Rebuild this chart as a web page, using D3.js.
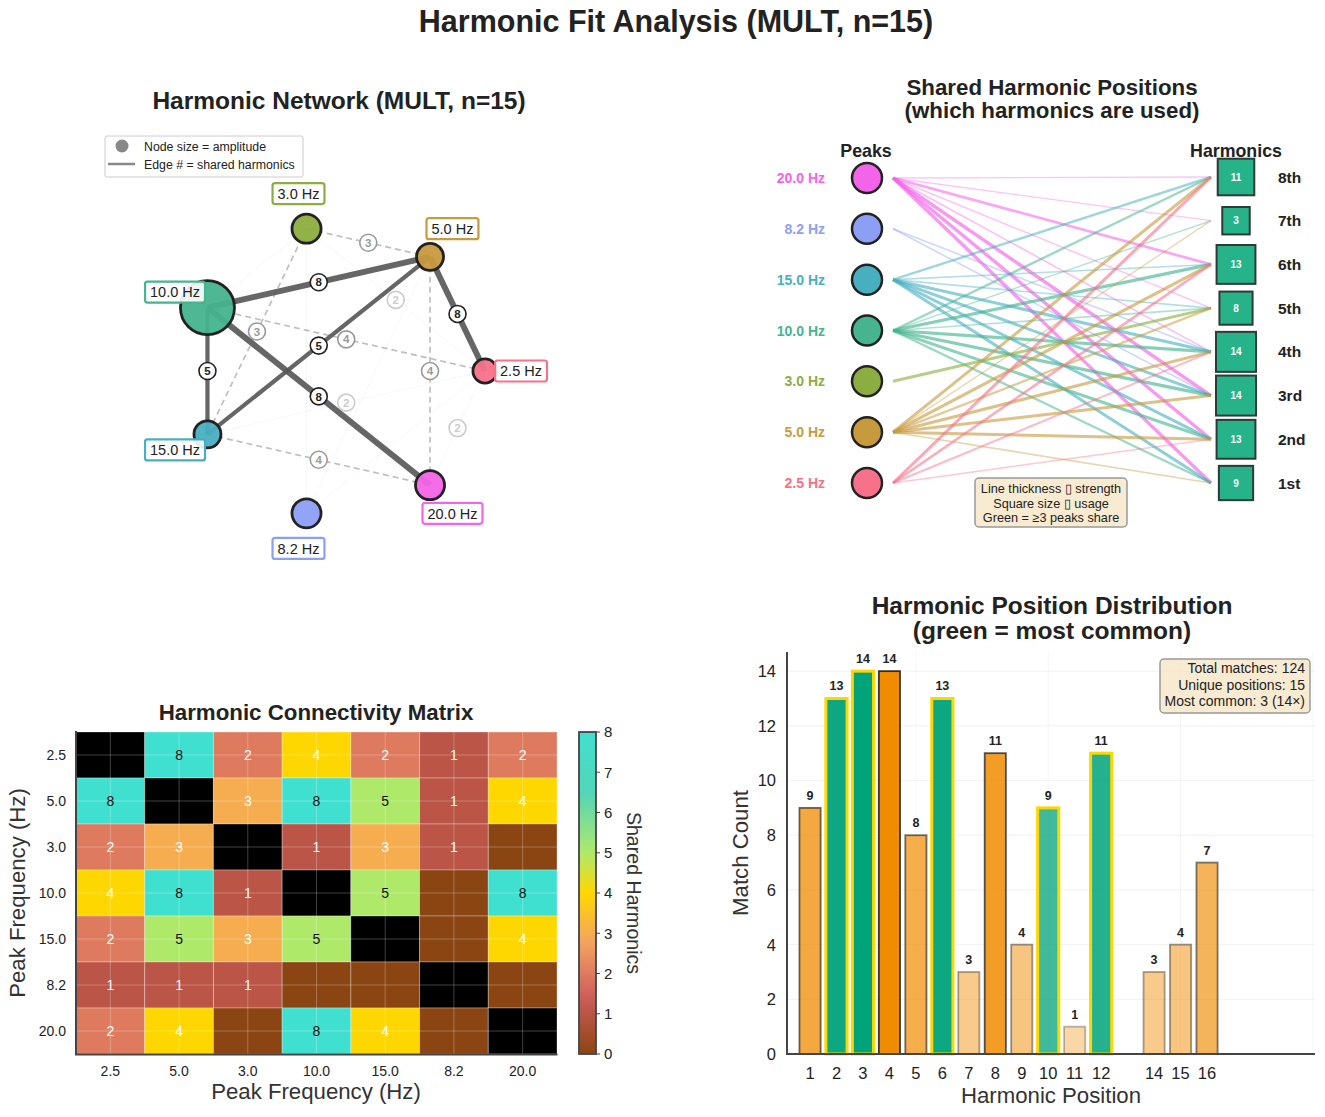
<!DOCTYPE html>
<html>
<head>
<meta charset="utf-8">
<script src="https://cdn.jsdelivr.net/npm/d3@7"></script>
<style>
body { margin: 0; background: #fff; }
text { font-family: "Liberation Sans", Arial, sans-serif; }
</style>
</head>
<body>
<svg id="svg"></svg>
<script>
const width = 1325;
const height = 1117;

// peaks, in circular-layout / matrix order
const peaks = ["2.5", "5.0", "3.0", "10.0", "15.0", "8.2", "20.0"];
const peakColors = ["#f77189", "#c89a3e", "#8cad3f", "#45b48f", "#48afc1", "#8c9ff5", "#f464e8"];
const amplitudes = [0.2, 0.25, 0.29, 1.0, 0.25, 0.29, 0.29];

// shared harmonics between peaks (diagonal unused)
const shared = [
  [0, 8, 2, 4, 2, 1, 2],
  [8, 0, 3, 8, 5, 1, 4],
  [2, 3, 0, 1, 3, 1, 0],
  [4, 8, 1, 0, 5, 0, 8],
  [2, 5, 3, 5, 0, 0, 4],
  [1, 1, 1, 0, 0, 0, 0],
  [2, 4, 0, 8, 4, 0, 0]
];

// bipartite panel
const peakRows = ["20.0", "8.2", "15.0", "10.0", "3.0", "5.0", "2.5"];
const harmonicRows = ["8th", "7th", "6th", "5th", "4th", "3rd", "2nd", "1st"];
const harmonicUsage = [11, 3, 13, 8, 14, 14, 13, 9];
const links = [
  ["20.0", "8th", 0.15], ["20.0", "7th", 0.15], ["20.0", "6th", 0.6], ["20.0", "5th", 0.2],
  ["20.0", "4th", 0.25], ["20.0", "3rd", 0.8], ["20.0", "2nd", 0.8], ["20.0", "1st", 0.8],
  ["8.2", "4th", 0.25], ["8.2", "3rd", 0.25],
  ["15.0", "8th", 0.5], ["15.0", "6th", 0.25], ["15.0", "5th", 0.25], ["15.0", "4th", 0.7],
  ["15.0", "3rd", 0.7], ["15.0", "2nd", 0.7], ["15.0", "1st", 0.7],
  ["10.0", "8th", 0.5], ["10.0", "7th", 0.2], ["10.0", "6th", 0.75], ["10.0", "5th", 0.25],
  ["10.0", "4th", 0.75], ["10.0", "3rd", 0.75], ["10.0", "2nd", 0.7], ["10.0", "1st", 0.5],
  ["3.0", "5th", 0.7],
  ["5.0", "8th", 0.7], ["5.0", "7th", 0.2], ["5.0", "6th", 0.7], ["5.0", "5th", 0.5],
  ["5.0", "4th", 0.7], ["5.0", "3rd", 0.7], ["5.0", "2nd", 0.7], ["5.0", "1st", 0.25],
  ["2.5", "8th", 0.7], ["2.5", "6th", 0.6], ["2.5", "4th", 0.4], ["2.5", "2nd", 0.2]
];
const noteLines = ["Line thickness \u25AF strength", "Square size \u25AF usage", "Green = \u22653 peaks share"];

// position distribution
const positions = [1, 2, 3, 4, 5, 6, 7, 8, 9, 10, 11, 12, 14, 15, 16];
const counts = [9, 13, 14, 14, 8, 13, 3, 11, 4, 9, 1, 11, 3, 4, 7];
const commonPositions = [2, 3, 6, 10, 12];
const statLines = ["Total matches: 124", "Unique positions: 15", "Most common: 3 (14\u00D7)"];

const colorOf = p => peakColors[peaks.indexOf(p)];

const svg = d3.select("#svg")
  .attr("width", width)
  .attr("height", height);

svg.append("rect").attr("width", width).attr("height", height).attr("fill", "white");

svg.append("text")
  .attr("x", 676).attr("y", 32)
  .attr("text-anchor", "middle")
  .style("font-size", "30.5px").style("font-weight", "bold").attr("fill", "#222")
  .text("Harmonic Fit Analysis (MULT, n=15)");

function title(lines, x, y, size, gap) {
  lines.forEach((t, i) => {
    svg.append("text")
      .attr("x", x).attr("y", y + i * gap)
      .attr("text-anchor", "middle")
      .style("font-size", size + "px").style("font-weight", "bold").attr("fill", "#222")
      .text(t);
  });
}

// ---------- network ----------
function drawNetwork() {
  const g = svg.append("g");
  title(["Harmonic Network (MULT, n=15)"], 339, 109, 24.5, 0);

  const nx = d3.scaleLinear().domain([-1, 1]).range([193, 485]);
  const ny = d3.scaleLinear().domain([-1, 1]).range([517, 225]);
  const rScale = d3.scaleSqrt().domain([0, 1]).range([0, 27]);

  const nodes = peaks.map((p, i) => {
    const a = 2 * Math.PI * i / peaks.length;
    return { id: p, i: i, a: a, x: nx(Math.cos(a)), y: ny(Math.sin(a)), r: rScale(amplitudes[i]) };
  });

  const edges = [];
  for (let i = 0; i < peaks.length; i++) {
    for (let j = i + 1; j < peaks.length; j++) {
      if (shared[i][j] > 0) edges.push({ s: nodes[i], t: nodes[j], w: shared[i][j] });
    }
  }
  edges.sort((a, b) => a.w - b.w);

  g.selectAll("line.edge")
    .data(edges)
    .enter().append("line")
    .attr("x1", d => d.s.x).attr("y1", d => d.s.y)
    .attr("x2", d => d.t.x).attr("y2", d => d.t.y)
    .attr("stroke", d => d.w >= 5 ? "#555" : d.w >= 3 ? "#aaa" : "#ddd")
    .attr("stroke-opacity", d => d.w >= 5 ? 0.9 : d.w >= 3 ? 0.75 : 0.55)
    .attr("stroke-width", d => d.w >= 5 ? 1.5 + d.w * 0.55 : d.w >= 3 ? 1.7 : 0.8)
    .attr("stroke-dasharray", d => d.w >= 5 ? null : d.w >= 3 ? "6,4" : "1.5,1.5");

  const lab = g.selectAll("g.elab")
    .data(edges.filter(d => d.w >= 2))
    .enter().append("g")
    .attr("transform", d => `translate(${(d.s.x + d.t.x) / 2},${(d.s.y + d.t.y) / 2})`);
  lab.append("circle")
    .attr("r", 8.5)
    .attr("fill", "white")
    .attr("stroke", d => d.w >= 5 ? "#222" : d.w >= 3 ? "#999" : "#ccc")
    .attr("stroke-width", 1.6);
  lab.append("text")
    .attr("text-anchor", "middle").attr("dy", "0.36em")
    .style("font-size", "11.5px").style("font-weight", "bold")
    .attr("fill", d => d.w >= 5 ? "#222" : d.w >= 3 ? "#999" : "#ccc")
    .text(d => d.w);

  g.selectAll("circle.node")
    .data(nodes)
    .enter().append("circle")
    .attr("cx", d => d.x).attr("cy", d => d.y).attr("r", d => d.r)
    .attr("fill", d => peakColors[d.i]).attr("fill-opacity", 0.95)
    .attr("stroke", "#222").attr("stroke-width", 2.8);

  nodes.forEach(d => {
    const lx = d.x + 36 * Math.cos(d.a);
    const ly = d.y - 36 * Math.sin(d.a);
    const lg = g.append("g").attr("transform", `translate(${lx},${ly})`);
    const box = lg.append("rect");
    const t = lg.append("text")
      .attr("text-anchor", "middle").attr("dy", "0.36em")
      .style("font-size", "14.5px").attr("fill", "#222")
      .text(d.id + " Hz");
    const w = t.node().getComputedTextLength() + 10;
    box.attr("x", -w / 2).attr("y", -10.5).attr("width", w).attr("height", 21)
      .attr("rx", 2.5)
      .attr("fill", "white").attr("fill-opacity", 0.9)
      .attr("stroke", peakColors[d.i]).attr("stroke-width", 2.2);
  });

  // legend
  const lg = g.append("g");
  lg.append("rect").attr("x", 105).attr("y", 136).attr("width", 198).attr("height", 41)
    .attr("rx", 2).attr("fill", "white").attr("stroke", "#ccc");
  lg.append("circle").attr("cx", 122).attr("cy", 146).attr("r", 6.5).attr("fill", "#888");
  lg.append("line").attr("x1", 108).attr("x2", 135).attr("y1", 164).attr("y2", 164)
    .attr("stroke", "#888").attr("stroke-width", 2.5);
  lg.append("text").attr("x", 144).attr("y", 151).style("font-size", "12.3px").attr("fill", "#222")
    .text("Node size = amplitude");
  lg.append("text").attr("x", 144).attr("y", 169).style("font-size", "12.3px").attr("fill", "#222")
    .text("Edge # = shared harmonics");
}

// ---------- bipartite ----------
function drawBipartite() {
  const g = svg.append("g");
  title(["Shared Harmonic Positions", "(which harmonics are used)"], 1052, 95, 22.3, 23);

  const py = d3.scalePoint().domain(peakRows).range([178, 483]);
  const hy = d3.scalePoint().domain(harmonicRows).range([177, 483]);
  const sq = d3.scaleLinear().domain([0, 14]).range([24, 40]);
  const lw = d3.scaleLinear().domain([0, 1]).range([0.8, 4]);
  const la = d3.scaleLinear().domain([0, 1]).range([0.3, 0.75]);

  g.selectAll("line.link")
    .data(links)
    .enter().append("line")
    .attr("x1", 893).attr("y1", d => py(d[0]))
    .attr("x2", 1211).attr("y2", d => hy(d[1]))
    .attr("stroke", d => colorOf(d[0]))
    .attr("stroke-width", d => lw(d[2]))
    .attr("stroke-opacity", d => la(d[2]));

  g.append("text").attr("x", 866).attr("y", 157).attr("text-anchor", "middle")
    .style("font-size", "17.8px").style("font-weight", "bold").attr("fill", "#222").text("Peaks");
  g.append("text").attr("x", 1236).attr("y", 157).attr("text-anchor", "middle")
    .style("font-size", "17.8px").style("font-weight", "bold").attr("fill", "#222").text("Harmonics");

  g.selectAll("circle.peak")
    .data(peakRows)
    .enter().append("circle")
    .attr("cx", 867).attr("cy", d => py(d)).attr("r", 15)
    .attr("fill", d => colorOf(d)).attr("stroke", "#222").attr("stroke-width", 2.5);
  g.selectAll("text.peak")
    .data(peakRows)
    .enter().append("text")
    .attr("x", 825).attr("y", d => py(d)).attr("dy", "0.36em")
    .attr("text-anchor", "end")
    .style("font-size", "14px").style("font-weight", "bold")
    .attr("fill", d => colorOf(d))
    .text(d => d + " Hz");

  const hg = g.selectAll("g.harm")
    .data(harmonicRows)
    .enter().append("g")
    .attr("transform", d => `translate(1236,${hy(d)})`);
  hg.append("rect")
    .attr("x", (d, i) => -sq(harmonicUsage[i]) / 2)
    .attr("y", (d, i) => -sq(harmonicUsage[i]) / 2)
    .attr("width", (d, i) => sq(harmonicUsage[i]))
    .attr("height", (d, i) => sq(harmonicUsage[i]))
    .attr("fill", "#27b38a").attr("stroke", "#2d3a35").attr("stroke-width", 2);
  hg.append("text")
    .attr("text-anchor", "middle").attr("dy", "0.36em")
    .style("font-size", "10px").style("font-weight", "bold").attr("fill", "white")
    .text((d, i) => harmonicUsage[i]);
  hg.append("text")
    .attr("x", 42).attr("dy", "0.36em")
    .style("font-size", "15.5px").style("font-weight", "bold").attr("fill", "#222")
    .text(d => d);

  const note = g.append("g");
  note.append("rect").attr("x", 975).attr("y", 478).attr("width", 152).attr("height", 49)
    .attr("rx", 4).attr("fill", "#f5e4c3").attr("fill-opacity", 0.75)
    .attr("stroke", "#999").attr("stroke-width", 1.5);
  noteLines.forEach((t, i) => {
    note.append("text").attr("x", 1051).attr("y", 493 + i * 14.5).attr("text-anchor", "middle")
      .style("font-size", "12.7px").attr("fill", "#222").text(t);
  });
}

// ---------- matrix ----------
function drawMatrix() {
  const g = svg.append("g");
  title(["Harmonic Connectivity Matrix"], 316, 720, 22.3, 0);

  const x = d3.scaleBand().domain(peaks).range([76, 557]);
  const y = d3.scaleBand().domain(peaks).range([732, 1054]);
  const color = d3.scaleLinear()
    .domain([0, 1.4, 2.8, 4, 5, 6.5, 8])
    .range(["#8B4513", "#CD5C5C", "#F4A460", "#FFD700", "#AEE96A", "#52D6B8", "#40E0D0"]);

  const cells = [];
  peaks.forEach((r, i) => peaks.forEach((c, j) => cells.push({ r: r, c: c, i: i, j: j, v: shared[i][j] })));

  g.selectAll("rect.cell")
    .data(cells)
    .enter().append("rect")
    .attr("x", d => x(d.c)).attr("y", d => y(d.r))
    .attr("width", x.bandwidth()).attr("height", y.bandwidth())
    .attr("fill", d => d.i === d.j ? "#000" : color(d.v))
    .attr("stroke", "rgba(255,255,255,0.3)").attr("stroke-width", 1);

  // grid through cell centres
  peaks.forEach(p => {
    g.append("line").attr("x1", x(p) + x.bandwidth() / 2).attr("x2", x(p) + x.bandwidth() / 2)
      .attr("y1", 732).attr("y2", 1054).attr("stroke", "white").attr("stroke-opacity", 0.25);
    g.append("line").attr("y1", y(p) + y.bandwidth() / 2).attr("y2", y(p) + y.bandwidth() / 2)
      .attr("x1", 76).attr("x2", 557).attr("stroke", "white").attr("stroke-opacity", 0.25);
  });

  g.selectAll("text.cell")
    .data(cells.filter(d => d.i !== d.j && d.v > 0))
    .enter().append("text")
    .attr("x", d => x(d.c) + x.bandwidth() / 2).attr("y", d => y(d.r) + y.bandwidth() / 2)
    .attr("dy", "0.36em").attr("text-anchor", "middle")
    .style("font-size", "14px")
    .attr("fill", d => d.v > 4 ? "#111" : "white")
    .text(d => d.v);

  g.append("path").attr("d", "M76,731V1054.5H557.5").attr("fill", "none")
    .attr("stroke", "#444").attr("stroke-width", 2);

  peaks.forEach(p => {
    g.append("text").attr("x", x(p) + x.bandwidth() / 2).attr("y", 1076).attr("text-anchor", "middle")
      .style("font-size", "14px").attr("fill", "#222").text(p);
    g.append("text").attr("x", 66).attr("y", y(p) + y.bandwidth() / 2).attr("dy", "0.36em")
      .attr("text-anchor", "end").style("font-size", "14px").attr("fill", "#222").text(p);
  });

  g.append("text").attr("x", 316).attr("y", 1099).attr("text-anchor", "middle")
    .style("font-size", "22.2px").attr("fill", "#333").text("Peak Frequency (Hz)");
  g.append("text").attr("transform", "translate(25,893) rotate(-90)").attr("text-anchor", "middle")
    .style("font-size", "22.2px").attr("fill", "#333").text("Peak Frequency (Hz)");

  // colorbar
  const defs = svg.append("defs");
  const grad = defs.append("linearGradient").attr("id", "cbar")
    .attr("x1", 0).attr("y1", 1).attr("x2", 0).attr("y2", 0);
  d3.range(0, 8.01, 0.25).forEach(v => {
    grad.append("stop").attr("offset", v / 8).attr("stop-color", color(v));
  });
  const cy = d3.scaleLinear().domain([0, 8]).range([1054, 732]);
  g.append("rect").attr("x", 579).attr("y", 732).attr("width", 17).attr("height", 322)
    .attr("fill", "url(#cbar)").attr("stroke", "#444").attr("stroke-width", 1.8);
  d3.range(0, 9).forEach(v => {
    g.append("line").attr("x1", 596).attr("x2", 600).attr("y1", cy(v)).attr("y2", cy(v))
      .attr("stroke", "#444").attr("stroke-width", 1);
    g.append("text").attr("x", 604).attr("y", cy(v)).attr("dy", "0.36em")
      .style("font-size", "15px").attr("fill", "#222").text(v);
  });
  g.append("text").attr("transform", "translate(627,893) rotate(90)").attr("text-anchor", "middle")
    .style("font-size", "19.6px").attr("fill", "#333").text("Shared Harmonics");
}

// ---------- distribution ----------
function drawBars() {
  const g = svg.append("g");
  title(["Harmonic Position Distribution", "(green = most common)"], 1052, 614, 24.5, 25);

  const x = d3.scaleLinear().domain([0.13, 20.08]).range([787, 1315]);
  const y = d3.scaleLinear().domain([0, 14.7]).range([1054, 652]);
  const maxC = d3.max(counts);
  const alpha = c => 0.3 + 0.7 * c / maxC;

  d3.range(0, 15, 2).forEach(v => {
    g.append("line").attr("x1", 787).attr("x2", 1315).attr("y1", y(v)).attr("y2", y(v))
      .attr("stroke", "#eee").attr("stroke-width", 0.8);
  });
  [5, 10, 15, 20].forEach(v => {
    g.append("line").attr("x1", x(v)).attr("x2", x(v)).attr("y1", 652).attr("y2", 1054)
      .attr("stroke", "#f2f2f2").attr("stroke-width", 0.8);
  });

  const bars = positions.map((p, i) => ({ p: p, c: counts[i], green: commonPositions.includes(p) }));
  const bw = x(0.8) - x(0);

  g.selectAll("rect.bar")
    .data(bars)
    .enter().append("rect")
    .attr("x", d => x(d.p) - bw / 2).attr("y", d => y(d.c))
    .attr("width", bw).attr("height", d => y(0) - y(d.c))
    .attr("fill", d => d.green ? "#00a37a" : "#f08c00")
    .attr("fill-opacity", d => alpha(d.c))
    .attr("stroke", d => d.green ? "#FFD700" : "#222")
    .attr("stroke-opacity", d => d.green ? 1 : alpha(d.c) * 0.9)
    .attr("stroke-width", d => d.green ? 3 : 1.8);

  g.selectAll("text.val")
    .data(bars)
    .enter().append("text")
    .attr("x", d => x(d.p)).attr("y", d => y(d.c) - 8)
    .attr("text-anchor", "middle")
    .style("font-size", "12.5px").style("font-weight", "bold").attr("fill", "#222")
    .text(d => d.c);

  g.append("path").attr("d", "M787,652V1054H1315").attr("fill", "none")
    .attr("stroke", "#444").attr("stroke-width", 2);

  positions.forEach(p => {
    g.append("text").attr("x", x(p)).attr("y", 1079).attr("text-anchor", "middle")
      .style("font-size", "16.5px").attr("fill", "#222").text(p);
  });
  d3.range(0, 15, 2).forEach(v => {
    g.append("text").attr("x", 776).attr("y", y(v)).attr("dy", "0.36em").attr("text-anchor", "end")
      .style("font-size", "16.5px").attr("fill", "#222").text(v);
  });

  g.append("text").attr("x", 1051).attr("y", 1103).attr("text-anchor", "middle")
    .style("font-size", "22.2px").attr("fill", "#333").text("Harmonic Position");
  g.append("text").attr("transform", "translate(748,853) rotate(-90)").attr("text-anchor", "middle")
    .style("font-size", "22.2px").attr("fill", "#333").text("Match Count");

  g.append("rect").attr("x", 1160).attr("y", 659).attr("width", 150).attr("height", 54)
    .attr("rx", 4).attr("fill", "#f5e4c3").attr("fill-opacity", 0.75)
    .attr("stroke", "#999").attr("stroke-width", 1.5);
  statLines.forEach((t, i) => {
    g.append("text").attr("x", 1305).attr("y", 673 + i * 16.5).attr("text-anchor", "end")
      .style("font-size", "14px").attr("fill", "#222").text(t);
  });
}

drawNetwork();
drawBipartite();
drawMatrix();
drawBars();
</script>
</body>
</html>
